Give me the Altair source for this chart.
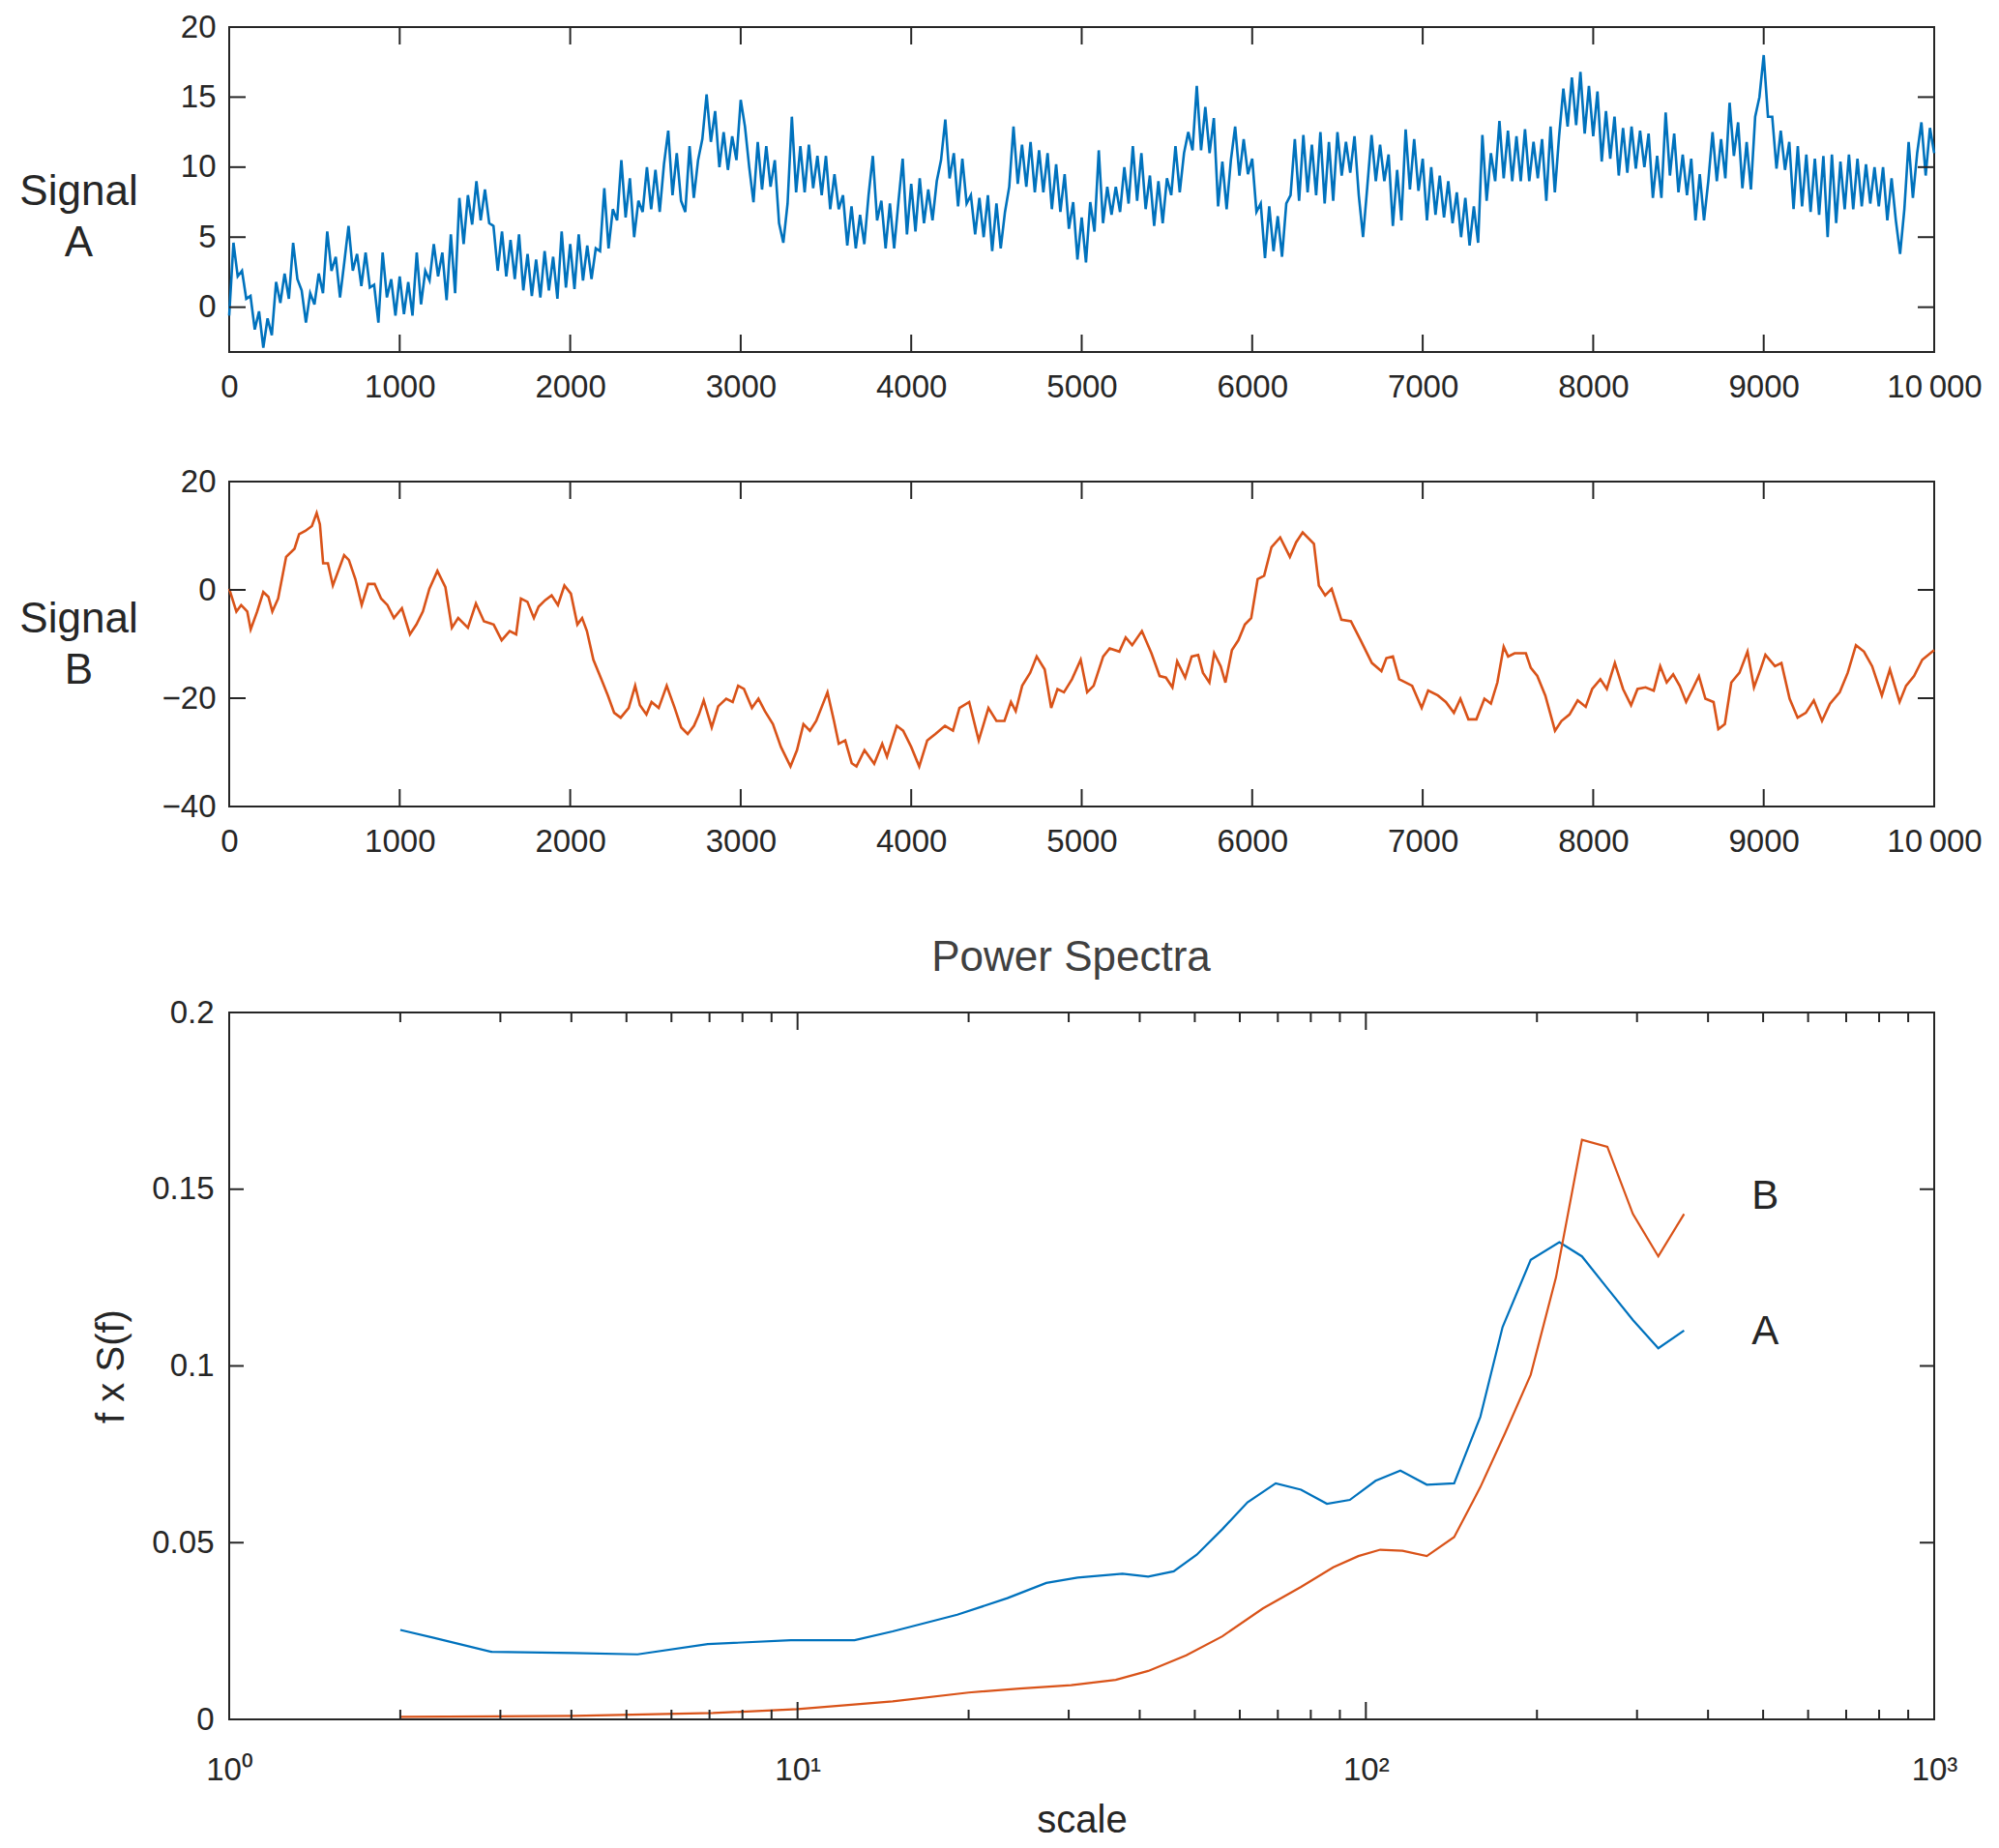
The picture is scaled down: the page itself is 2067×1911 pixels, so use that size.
import altair as alt
import pandas as pd

# ---------------- data ----------------
A_y = [
    -0.6, 4.6, 2.2, 2.6,   0.6, 0.8, -1.6, -0.3,   -2.9, -0.8, -2.0, 1.8,   0.3, 2.4, 0.6, 4.6,
    2.0, 1.2, -1.1, 1.0,   0.2, 2.4, 1.0, 5.4,   2.6, 3.6, 0.7, 3.2,   5.8, 2.6, 3.8, 1.5,
    3.9, 1.4, 1.6, -1.1,   3.9, 0.7, 2.0, -0.6,   2.2, -0.5, 1.8, -0.6,   3.9, 0.2, 2.6, 1.9,
    4.5, 2.2, 3.9, 0.5,   5.2, 1.0, 7.8, 4.5,   8.0, 5.9, 9.0, 6.2,   8.4, 6.0, 5.8, 2.6,
    5.4, 2.2, 4.8, 2.0,   5.2, 1.2, 3.8, 0.8,   3.4, 0.7, 4.0, 1.2,   3.6, 0.6, 5.4, 1.4,
    4.5, 1.3, 5.2, 1.9,   4.4, 2.0, 4.2, 4.0,   8.5, 4.2, 7.0, 6.2,   10.5, 6.4, 9.2, 5.0,
    7.6, 6.8, 10.0, 7.0,   9.8, 6.8, 10.2, 12.6,   8.0, 11.0, 7.6, 6.8,   11.5, 7.8, 10.5, 12.0,
    15.2, 11.8, 14.0, 10.0,   12.5, 9.8, 12.2, 10.5,   14.8, 12.9, 10.0, 7.5,   11.8, 8.4, 11.5, 8.6,
    10.5, 6.0, 4.6, 7.4,   13.6, 8.2, 11.5, 8.2,   11.6, 8.5, 10.8, 8.0,   10.8, 7.0, 9.5, 7.0,
    8.0, 4.4, 7.2, 4.2,   6.6, 4.5, 8.0, 10.8,   6.2, 7.6, 4.2, 7.4,   4.2, 7.5, 10.6, 5.2,
    8.8, 5.4, 9.2, 6.0,   8.4, 6.2, 9.0, 10.5,   13.4, 9.2, 11.0, 7.2,   10.6, 7.4, 8.0, 5.2,
    7.8, 5.0, 8.0, 4.0,   7.4, 4.2, 6.8, 8.6,   12.9, 8.8, 11.6, 8.6,   11.8, 8.2, 11.2, 8.2,
    11.0, 7.0, 10.2, 6.8,   9.5, 5.6, 7.5, 3.4,   6.4, 3.2, 7.5, 5.4,   11.2, 6.0, 8.6, 6.6,
    8.6, 6.8, 10.0, 7.4,   11.5, 7.6, 11.0, 7.0,   9.4, 5.8, 9.0, 6.0,   9.2, 8.0, 11.5, 8.2,
    11.0, 12.5, 11.2, 15.8,   11.2, 14.3, 11.0, 13.5,   7.2, 10.4, 7.0, 10.5,   12.9, 9.4, 12.0, 9.5,
    10.6, 6.8, 7.4, 3.5,   7.2, 4.0, 6.5, 3.6,   7.4, 8.0, 12.0, 7.6,   12.3, 8.2, 11.6, 8.0,
    12.5, 7.4, 11.8, 7.6,   12.5, 9.4, 11.8, 9.6,   12.2, 8.0, 5.0, 8.6,   12.3, 9.0, 11.6, 9.0,
    10.9, 5.8, 9.8, 6.2,   12.7, 8.4, 12.0, 8.3,   10.6, 6.2, 10.0, 6.6,   9.4, 6.4, 9.0, 6.0,
    8.2, 5.0, 7.8, 4.4,   7.2, 4.6, 12.3, 7.6,   11.0, 9.0, 13.3, 9.2,   12.6, 9.0, 12.2, 9.0,
    12.7, 9.0, 11.8, 9.2,   12.0, 7.6, 12.9, 8.2,   12.2, 15.6, 12.9, 16.4,   13.0, 16.8, 12.4, 15.8,
    12.2, 15.4, 10.4, 14.0,   10.6, 13.6, 9.4, 12.8,   9.6, 12.9, 9.9, 12.6,   10.0, 12.4, 7.8, 10.8,
    7.8, 13.9, 9.4, 12.4,   8.2, 10.9, 8.0, 10.6,   6.2, 9.5, 6.2, 9.0,   12.5, 9.0, 12.0, 9.2,
    14.6, 10.8, 13.2, 8.5,   11.8, 8.4, 13.6, 15.0,   18.0, 13.6, 13.6, 9.9,   12.6, 9.8, 11.8, 7.0,
    11.5, 7.2, 10.9, 6.8,   10.6, 6.6, 10.8, 5.0,   10.9, 6.0, 10.4, 7.0,   10.9, 7.0, 10.6, 7.2,
    10.2, 7.4, 10.0, 7.2,   10.0, 6.2, 9.2, 6.2,   3.8, 7.0, 11.8, 7.8,   11.0, 13.2, 9.4, 12.8,
    11.0,
]
A_t = list(range(0, 25 * len(A_y), 25))

# Signal B
B_t = [0, 42, 70, 106, 126, 164, 200, 230, 253, 287, 334, 383, 410, 447, 485, 513, 532, 551, 579, 608,
       636, 674, 702, 740, 777, 815, 853, 891, 928, 966, 1013, 1060, 1098, 1136, 1174, 1221, 1268, 1306, 1343, 1400,
       1447, 1494, 1551, 1598, 1645, 1683, 1711, 1749, 1787, 1815, 1853, 1891, 1928, 1966, 2004, 2042, 2070, 2098, 2136, 2183,
       2221, 2258, 2296, 2343, 2381, 2409, 2447, 2477, 2519, 2566, 2613, 2651, 2689, 2726, 2755, 2783, 2830, 2868, 2915, 2953,
       2985, 3019, 3066, 3104, 3142, 3189, 3236, 3292, 3330, 3368, 3406, 3443, 3509, 3547, 3575, 3613, 3651, 3679, 3726, 3783,
       3830, 3858, 3915, 3953, 4000, 4047, 4094, 4142, 4198, 4245, 4283, 4340, 4396, 4453, 4500, 4547, 4585, 4613, 4651, 4698,
       4736, 4783, 4821, 4858, 4896, 4943, 4994, 5032, 5070, 5126, 5164, 5221, 5258, 5296, 5353, 5409, 5457, 5494, 5532, 5560,
       5607, 5645, 5683, 5711, 5749, 5777, 5815, 5843, 5881, 5919, 5957, 5994, 6032, 6070, 6113, 6164, 6221, 6258, 6296, 6362,
       6391, 6428, 6466, 6523, 6579, 6636, 6702, 6758, 6787, 6825, 6862, 6938, 6994, 7032, 7089, 7136, 7183, 7221, 7268, 7315,
       7362, 7400, 7438, 7475, 7501, 7539, 7605, 7634, 7672, 7719, 7776, 7814, 7861, 7909, 7956, 7994, 8042, 8080, 8127, 8175,
       8222, 8260, 8307, 8355, 8393, 8431, 8469, 8507, 8545, 8583, 8620, 8658, 8706, 8734, 8772, 8810, 8858, 8905, 8943, 8981,
       9010, 9066, 9104, 9152, 9199, 9247, 9294, 9342, 9389, 9446, 9493, 9541, 9588, 9636, 9693, 9740, 9797, 9835, 9882, 9930,
       10000]
B_y = [0.2, -4.0, -2.8, -4.0, -7.3, -4.0, -0.4, -1.3, -4.0, -1.6, 6.1, 7.6, 10.3, 10.9, 11.8, 14.2, 12.1, 4.9, 4.9, 0.8,
       3.2, 6.4, 5.5, 2.0, -2.8, 1.1, 1.1, -1.6, -2.8, -5.2, -3.4, -8.2, -6.4, -4.0, 0.2, 3.5, 0.5, -7.0, -5.2, -7.0,
       -2.5, -5.8, -6.4, -9.3, -7.6, -8.2, -1.6, -2.2, -5.2, -3.1, -1.9, -1.0, -2.8, 0.8, -0.7, -6.4, -5.2, -7.6, -12.9, -16.5,
       -19.5, -22.7, -23.6, -21.8, -17.7, -21.3, -23.0, -20.7, -21.8, -17.7, -21.8, -25.4, -26.6, -25.1, -23.0, -20.4, -25.4, -21.5, -20.1, -20.7,
       -17.7, -18.3, -21.8, -20.1, -22.4, -24.8, -29.0, -32.6, -29.6, -24.8, -26.0, -24.2, -18.9, -24.2, -28.4, -27.8, -32.0, -32.6, -29.6, -32.1,
       -28.4, -30.8, -25.1, -26.0, -29.0, -32.6, -27.8, -26.6, -25.1, -26.0, -21.8, -20.7, -27.8, -21.8, -24.2, -24.2, -20.7, -22.4, -17.7, -15.3,
       -12.3, -14.7, -21.8, -18.3, -18.9, -16.5, -12.9, -18.9, -17.7, -12.3, -10.8, -11.4, -8.8, -10.2, -7.6, -11.7, -15.9, -16.2, -18.0, -13.2,
       -16.2, -12.3, -12.0, -15.3, -17.1, -11.7, -14.1, -17.1, -11.1, -9.3, -6.4, -5.2, 2.0, 2.6, 7.9, 9.7, 6.1, 8.8, 10.6, 8.5,
       0.8, -1.0, 0.2, -5.5, -5.8, -9.3, -13.5, -15.0, -12.6, -12.3, -16.5, -17.7, -21.8, -18.6, -19.5, -20.7, -22.7, -20.1, -23.9, -23.9,
       -20.1, -21.0, -17.1, -10.5, -12.3, -11.7, -11.7, -14.4, -15.9, -19.5, -26.0, -24.2, -23.0, -20.4, -21.6, -18.3, -16.5, -18.3, -13.5, -18.3,
       -21.3, -18.3, -18.0, -18.6, -14.1, -17.1, -15.6, -17.7, -20.7, -18.3, -15.9, -20.1, -20.7, -25.7, -24.8, -17.1, -15.3, -11.4, -18.0, -14.7,
       -12.0, -14.1, -13.5, -20.1, -23.6, -22.7, -20.4, -24.2, -21.0, -18.9, -15.3, -10.2, -11.4, -14.1, -19.5, -14.7, -20.7, -17.7, -15.9, -12.9,
       -11.1]

# Power spectra (f x S(f) vs scale)
C_scale_A = [2, 2.29, 2.89, 4.04, 5.23, 6.95, 9.73, 12.6, 14.7, 19.1, 23.4, 27.4, 31.1, 37.3, 41.4, 45.9, 50.4, 55.9,
             61.9, 69.4, 76.9, 85.4, 93.7, 104, 115, 128, 143, 159, 174, 195, 219, 240, 266, 295, 327, 363]
C_val_A = [0.0253, 0.0231, 0.0191, 0.0188, 0.0184, 0.0213, 0.0224, 0.0224, 0.0249, 0.0296, 0.0343, 0.0386, 0.0401,
           0.0412, 0.0404, 0.0419, 0.0466, 0.0538, 0.0614, 0.0668, 0.0650, 0.0610, 0.0621, 0.0675, 0.0704, 0.0664,
           0.0668, 0.0856, 0.111, 0.130, 0.135, 0.131, 0.122, 0.113, 0.105, 0.110]
C_scale_B = [2, 4.04, 7.1, 10, 14.7, 20, 24.6, 30.3, 36.3, 41.4, 48.3, 55.9, 65.9, 76.9, 87.6, 97.0, 106, 116, 128,
             143, 159, 176, 195, 216, 240, 266, 295, 327, 363]
C_val_B = [0.0007, 0.0010, 0.0018, 0.0029, 0.0051, 0.0076, 0.0087, 0.0097, 0.0112, 0.0137, 0.0181, 0.0235, 0.0314,
           0.0375, 0.0430, 0.0462, 0.0480, 0.0477, 0.0462, 0.0516, 0.0657, 0.0812, 0.0975, 0.125, 0.164, 0.162,
           0.143, 0.131, 0.143]

label_text = ["B", "A"]
label_x = [504, 504]
label_y = [0.148, 0.1097]

# tick values
sig_xticks = [0, 1000, 2000, 3000, 4000, 5000, 6000, 7000, 8000, 9000, 10000]
A_yticks = [0, 5, 10, 15, 20]
B_yticks = [-40, -20, 0, 20]
C_xmajor = [1, 10, 100, 1000]
C_xminor = [2, 3, 4, 5, 6, 7, 8, 9, 20, 30, 40, 50, 60, 70, 80, 90, 200, 300, 400, 500, 600, 700, 800, 900]
C_yticks = [0, 0.05, 0.1, 0.15, 0.2]

# ---------------- style ----------------
FONT = "Liberation Sans"
DARK = "#262626"
BLUE = "#0072BD"
ORANGE = "#D95319"
W = 1763
H_SIG = 336
H_C = 731
TL = 18      # major tick length
TLY = 17
TLMIN = 10


def tick_rules(vals, channel, scale, axis, h, length, w=W, sw=2):
    df = pd.DataFrame({"v": vals})
    base = alt.Chart(df).mark_rule(color=DARK, strokeWidth=sw)
    if channel == "x":
        enc = alt.X("v:Q", scale=scale, axis=axis)
        return [
            base.encode(x=enc, y=alt.value(h), y2=alt.value(h - length)),
            base.encode(x=enc, y=alt.value(0), y2=alt.value(length)),
        ]
    enc = alt.Y("v:Q", scale=scale, axis=axis)
    return [
        base.encode(y=enc, x=alt.value(0), x2=alt.value(length)),
        base.encode(y=enc, x=alt.value(w), x2=alt.value(w - length)),
    ]


SIG_XAXIS = alt.Axis(
    values=sig_xticks, ticks=False, domain=False, grid=False,
    labelFont=FONT, labelFontSize=33, labelColor=DARK, labelPadding=20,
    labelExpr="datum.value == 10000 ? '10\u2009000' : format(datum.value, 'd')",
    labelFlush=False, labelOverlap=False, title=None,
)


def sig_yaxis(values, name, title_y):
    return alt.Axis(
        values=values, ticks=False, domain=False, grid=False,
        labelFont=FONT, labelFontSize=33, labelColor=DARK, labelPadding=14,
        format="d", labelOverlap=False, labelFlush=False,
        title=["Signal", name], titleAngle=0, titleAlign="center", titleBaseline="middle",
        titleX=-156, titleY=title_y, titleFont=FONT, titleFontSize=44,
        titleFontWeight="normal", titleColor=DARK, titleLineHeight=53,
    )


# ---------------- panel A ----------------
xs_sig = alt.Scale(domain=[0, 10000], nice=False, zero=False)
ysA = alt.Scale(domain=[-3.2, 20], nice=False, zero=False)
YAXIS_A = sig_yaxis(A_yticks, "A", 170)
dfA = pd.DataFrame({"t": A_t, "v": A_y})
lineA = alt.Chart(dfA).mark_line(color=BLUE, strokeWidth=2.6).encode(
    x=alt.X("t:Q", scale=xs_sig, axis=SIG_XAXIS),
    y=alt.Y("v:Q", scale=ysA, axis=YAXIS_A),
)
panelA = alt.layer(
    lineA,
    *tick_rules(sig_xticks, "x", xs_sig, SIG_XAXIS, H_SIG, TL),
    *tick_rules(A_yticks, "y", ysA, YAXIS_A, H_SIG, TLY),
).properties(width=W, height=H_SIG)

# ---------------- panel B ----------------
ysB = alt.Scale(domain=[-40, 20], nice=False, zero=False)
YAXIS_B = sig_yaxis(B_yticks, "B", 142)
dfB = pd.DataFrame({"t": B_t, "v": B_y})
lineB = alt.Chart(dfB).mark_line(color=ORANGE, strokeWidth=2.6).encode(
    x=alt.X("t:Q", scale=xs_sig, axis=SIG_XAXIS),
    y=alt.Y("v:Q", scale=ysB, axis=YAXIS_B),
)
panelB = alt.layer(
    lineB,
    *tick_rules(sig_xticks, "x", xs_sig, SIG_XAXIS, H_SIG, TL),
    *tick_rules(B_yticks, "y", ysB, YAXIS_B, H_SIG, TLY),
).properties(width=W, height=H_SIG)

# ---------------- panel C ----------------
xsC = alt.Scale(type="log", domain=[1, 1000], nice=False)
ysC = alt.Scale(domain=[0, 0.2], nice=False, zero=False)
XAXIS_C = alt.Axis(
    values=C_xmajor, ticks=False, domain=False, grid=False,
    labelFont=FONT, labelFontSize=33, labelColor=DARK, labelPadding=36,
    labelExpr="datum.value == 1 ? '10\u2070' : datum.value == 10 ? '10\u00b9' : datum.value == 100 ? '10\u00b2' : '10\u00b3'",
    labelFlush=False, labelOverlap=False,
    title="scale", titleFont=FONT, titleFontSize=40, titleFontWeight="normal", titleColor=DARK,
    titleBaseline="middle", titleY=104,
)
YAXIS_C = alt.Axis(
    values=C_yticks, ticks=False, domain=False, grid=False, format="~g",
    labelFont=FONT, labelFontSize=33, labelColor=DARK, labelPadding=16,
    labelOverlap=False, labelFlush=False,
    title="f x S(f)", titleFont=FONT, titleFontSize=40, titleFontWeight="normal", titleColor=DARK,
    titleAngle=270, titleAlign="center", titleBaseline="middle", titleX=-122, titleY=H_C / 2,
)
dfC = pd.concat([
    pd.DataFrame({"s": C_scale_A, "p": C_val_A, "sig": "A"}),
    pd.DataFrame({"s": C_scale_B, "p": C_val_B, "sig": "B"}),
])
linesC = alt.Chart(dfC).mark_line(strokeWidth=2.2).encode(
    x=alt.X("s:Q", scale=xsC, axis=XAXIS_C),
    y=alt.Y("p:Q", scale=ysC, axis=YAXIS_C),
    color=alt.Color("sig:N", scale=alt.Scale(domain=["A", "B"], range=[BLUE, ORANGE]), legend=None),
    detail="sig:N",
)
dfLab = pd.DataFrame({"s": label_x, "p": label_y, "t": label_text})
labelsC = alt.Chart(dfLab).mark_text(font=FONT, fontSize=42, color=DARK, align="center", baseline="middle").encode(
    x=alt.X("s:Q", scale=xsC, axis=XAXIS_C),
    y=alt.Y("p:Q", scale=ysC, axis=YAXIS_C),
    text="t:N",
)
panelC = alt.layer(
    linesC, labelsC,
    *tick_rules(C_xmajor, "x", xsC, XAXIS_C, H_C, TL),
    *tick_rules(C_xminor, "x", xsC, XAXIS_C, H_C, TLMIN),
    *tick_rules(C_yticks, "y", ysC, YAXIS_C, H_C, 15),
).properties(
    width=W, height=H_C,
    title=alt.TitleParams("Power Spectra", font=FONT, fontSize=44, fontWeight="normal", color="#404040",
                          anchor="middle", baseline="alphabetic", offset=0, dy=17, dx=-11),
)


# ---------------- spacers & layout ----------------
def spacer(h):
    return alt.Chart(pd.DataFrame({"v": [0]})).mark_point(opacity=0).encode(
        x=alt.X("v:Q", axis=None), y=alt.Y("v:Q", axis=None)
    ).properties(width=W, height=h, view=alt.ViewBackground(stroke="transparent"))


SP = 66.5
chart = alt.vconcat(
    panelA, spacer(1), panelB, spacer(80), panelC,
    spacing=SP, bounds="flush",
).properties(
    padding={"left": 10, "top": 3, "right": 5, "bottom": 3},
    background="white",
).configure_view(
    stroke=DARK, strokeWidth=2,
)

chart.save("out.html", embed_options={"renderer": "svg", "actions": False})
